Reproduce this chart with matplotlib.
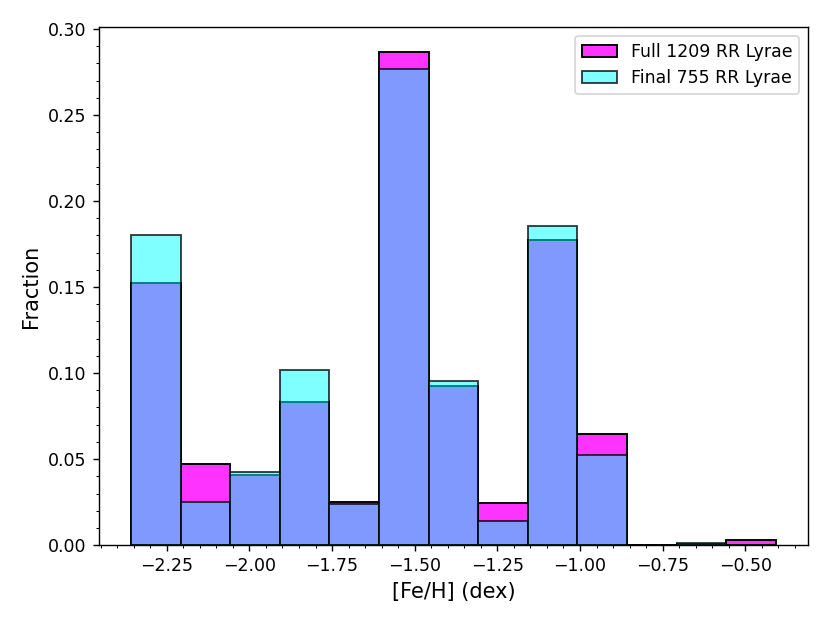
import numpy as np
import matplotlib
matplotlib.use("Agg")
import matplotlib.pyplot as plt

# bin edges of the [Fe/H] histogram (width 0.15 dex)
bin_edges = [-2.358, -2.208, -2.058, -1.908, -1.758, -1.608, -1.458,
             -1.308, -1.158, -1.008, -0.858, -0.708, -0.558, -0.408]

# fraction of stars per bin
full_frac = [0.1525, 0.0470, 0.0406, 0.0832, 0.0252, 0.2867, 0.0925,
             0.0246, 0.1775, 0.0644, 0.0, 0.0008, 0.0030]
final_frac = [0.1801, 0.0248, 0.0425, 0.1017, 0.0238, 0.2767, 0.0952,
              0.0142, 0.1855, 0.0525, 0.0, 0.0013, 0.0]

full_label = "Full 1209 RR Lyrae"
final_label = "Final 755 RR Lyrae"

edges = np.array(bin_edges)
left = edges[:-1]

fig = plt.figure(figsize=(6.64, 4.984), dpi=125)
ax = fig.add_axes([0.119, 0.125, 0.8545, 0.8315])

# alpha only on the fill, edges stay solid black
ax.hist(left, bins=edges, weights=full_frac, facecolor=(1, 0, 1, 0.8),
        edgecolor="black", linewidth=1.1, label=full_label)
ax.hist(left, bins=edges, weights=final_frac, facecolor=(0, 1, 1, 0.5),
        edgecolor=(0, 0, 0, 0.75), linewidth=1.1, label=final_label)

ax.set_xlabel("[Fe/H] (dex)", fontsize=12)
ax.set_ylabel("Fraction", fontsize=12)
ax.minorticks_on()
ax.legend(loc="upper right", fontsize=10)

fig.savefig("out.png", dpi=125)
